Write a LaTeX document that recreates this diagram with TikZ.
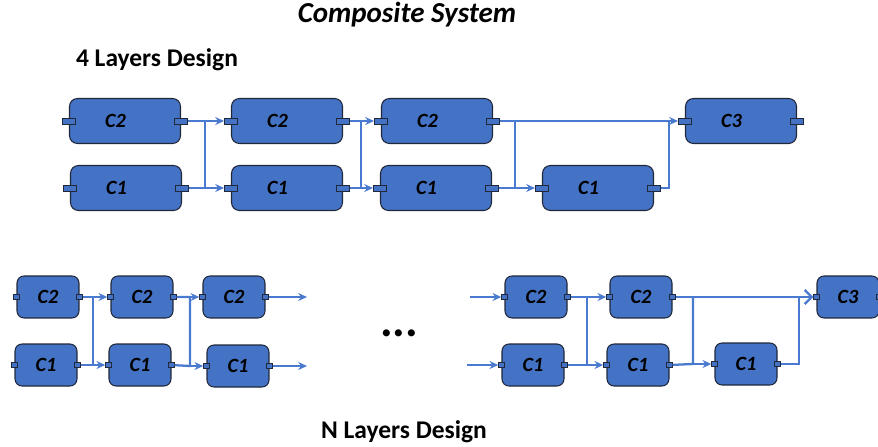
\documentclass[tikz,border=0pt]{standalone}
\usepackage{fontspec}
\setmainfont{Carlito}
\usetikzlibrary{arrows.meta}
\definecolor{boxblue}{RGB}{68,114,196}
\definecolor{lineblue}{RGB}{74,122,208}
\definecolor{boxedge}{RGB}{32,40,58}
\tikzset{
  comp/.style={draw=boxedge,fill=boxblue,line width=0.6pt,rounded corners=4.5pt,minimum width=2.22cm,minimum height=0.9cm,inner sep=0pt},
  smallcomp/.style={comp,minimum width=1.24cm,minimum height=0.84cm,rounded corners=4pt},
  lbl/.style={font=\fontsize{11.5}{12}\selectfont\bfseries\itshape},
  port/.style={draw=boxedge,fill=boxblue,line width=0.5pt,minimum width=0.26cm,minimum height=0.12cm,inner sep=0pt},
  smallport/.style={port,minimum width=0.11cm,minimum height=0.11cm},
  link/.style={lineblue,line width=1.3pt},
  arr/.style={link,-{Stealth[length=5pt,width=4.5pt]}},
  bigarr/.style={link,-{Straight Barb[length=4pt,width=8pt]}},
  heading/.style={font=\fontsize{14.5}{16}\selectfont\bfseries,anchor=base}
}
\begin{document}
\begin{tikzpicture}[x=0.02cm,y=-0.02cm]
\useasboundingbox (0,0) rectangle (878,446);
\node[font=\fontsize{16.5}{18}\selectfont\bfseries\itshape,anchor=base] (title) at (407,23) {Composite System};
\node[heading] (top-head) at (157,67) {4 Layers Design};
\node[heading] (bot-head) at (404,438) {N Layers Design};
\node[font=\fontsize{27}{27}\selectfont\bfseries,anchor=base] (dots) at (399,336) {...};
% 4 layers
\foreach \n/\x/\y/\t in {a/125/121/C2,b/126/188/C1,c/287/121/C2,d/287/188/C1,e/437/121/C2,f/436/188/C1,g/598/188/C1,h/741/121/C3}{
  \node[comp,label={[lbl,xshift=-0.19cm]center:\t}] (\n) at (\x,\y) {};
  \node[port] (\n-in) at (\n.west) {};
  \node[port] (\n-out) at (\n.east) {};
}
\coordinate (ja) at (205,121);
\coordinate (jb) at (205,188);
\coordinate (jc) at (361,121);
\coordinate (jd) at (361,188);
\coordinate (je) at (515,121);
\coordinate (jf) at (515,188);
\coordinate (jg) at (669,188);
\coordinate (jh) at (669,121);
\draw[link] (a-out) -- (ja) -- (jb) -- (b-out);
\draw[arr] (ja) -- (c-in);
\draw[arr] (jb) -- (d-in);
\draw[link] (c-out) -- (jc) -- (jd) -- (d-out);
\draw[arr] (jc) -- (e-in);
\draw[arr] (jd) -- (f-in);
\draw[arr] (e-out) -- (h-in);
\draw[link] (f-out) -- (jf) -- (je);
\draw[arr] (jf) -- (g-in);
\draw[link] (g-out) -- (jg) -- (jh);
% N layers
\foreach \n/\x/\y/\t in {b1/48/297/C2,b2/46/365/C1,b3/142/297/C2,b4/140/365/C1,b5/234/297/C2,b6/238/366/C1,b7/536/297/C2,b8/533/365/C1,b9/641/297/C2,b10/638/365/C1,b11/746/364/C1,b12/848/297/C3}{
  \node[smallcomp,label={[lbl]center:\t}] (\n) at (\x,\y) {};
  \node[smallport] (\n-in) at (\n.west) {};
  \node[smallport] (\n-out) at (\n.east) {};
}
\coordinate (k1) at (93,297);
\coordinate (k2) at (93,365);
\coordinate (k3) at (190,297);
\coordinate (k4) at (190,366);
\coordinate (o1) at (307,297);
\coordinate (o2) at (307,366);
\coordinate (i1) at (470,297);
\coordinate (i2) at (467,365);
\coordinate (k5) at (587,297);
\coordinate (k6) at (587,365);
\coordinate (k7) at (693,297);
\coordinate (k8) at (693,364);
\coordinate (k9) at (799,364);
\coordinate (k10) at (799,297);
\draw[link] (b1-out) -- (k1) -- (k2) -- (b2-out);
\draw[arr] (k1) -- (b3-in);
\draw[arr] (k2) -- (b4-in);
\draw[link] (b3-out) -- (k3) -- (k4) -- (b4-out);
\draw[arr] (k3) -- (b5-in);
\draw[arr] (k4) -- (b6-in);
\draw[arr] (b5-out) -- (o1);
\draw[arr] (b6-out) -- (o2);
\draw[arr] (i1) -- (b7-in);
\draw[arr] (i2) -- (b8-in);
\draw[link] (b7-out) -- (k5) -- (k6) -- (b8-out);
\draw[arr] (k5) -- (b9-in);
\draw[arr] (k6) -- (b10-in);
\draw[bigarr] (b9-out) -- (b12-in);
\draw[link] (b10-out) -- (k8) -- (k7);
\draw[arr] (k8) -- (b11-in);
\draw[link] (b11-out) -- (k9) -- (k10);
\end{tikzpicture}
\end{document}
